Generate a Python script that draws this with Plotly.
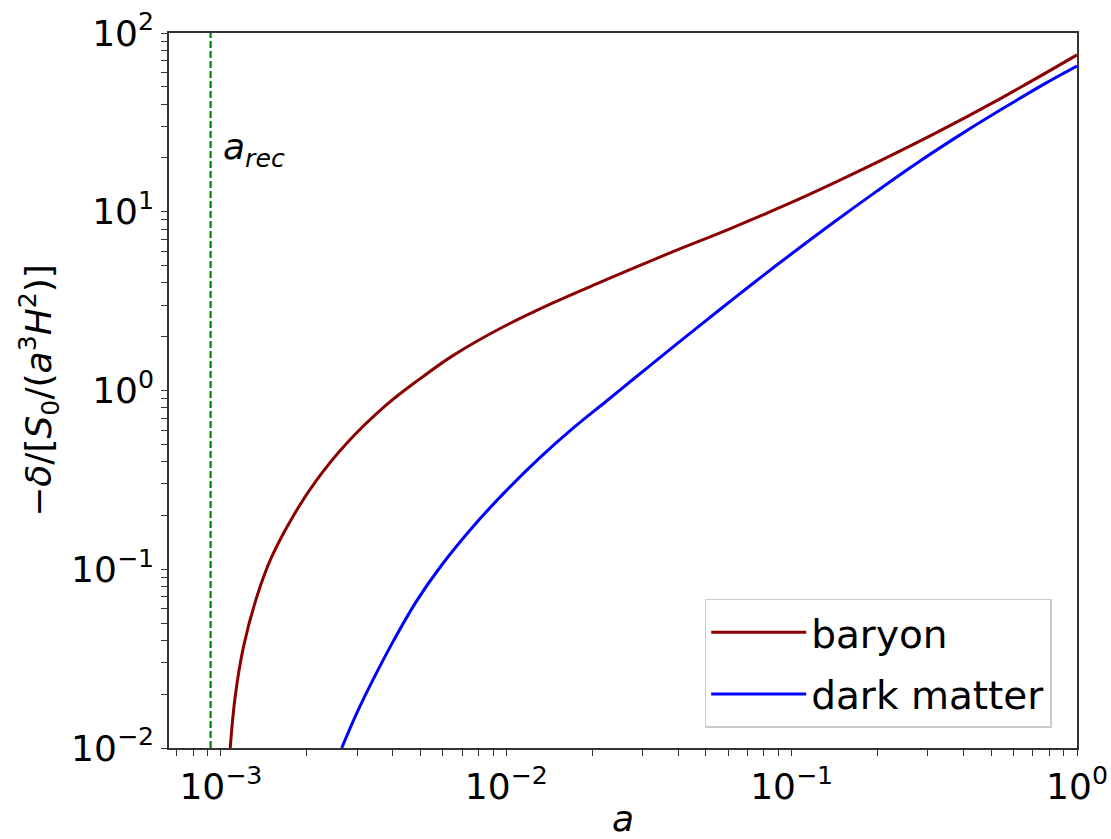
import plotly.graph_objects as go
import numpy as np

# ---- data ----
a_baryon = [1.078e-3, 1.122e-3, 1.20e-3, 1.336e-3, 1.507e-3, 1.795e-3, 2.167e-3, 2.76e-3,
            3.80e-3, 4.98e-3, 6.5e-3, 9.73e-3, 0.01456, 0.0218, 0.0362, 0.0619, 0.106,
            0.1815, 0.3105, 0.531, 1.0]
baryon = [0.0100, 0.0194, 0.0369, 0.0702, 0.1175, 0.1995, 0.316, 0.507, 0.83, 1.161, 1.567,
          2.265, 3.09, 4.09, 5.75, 8.13, 11.75, 17.58, 26.9, 42.4, 75.4]

a_dm = [2.65e-3, 2.99e-3, 3.42e-3, 4.01e-3, 4.84e-3, 5.85e-3, 7.64e-3, 0.0100, 0.01306,
        0.0171, 0.0224, 0.02818, 0.03548, 0.04677, 0.0631, 0.07943, 0.1, 0.1413, 0.1995,
        0.2818, 0.3981, 0.5623, 0.7586, 1.0]
dark_matter = [0.0100, 0.01563, 0.02427, 0.03936, 0.06607, 0.1023, 0.1730, 0.2754, 0.4188,
               0.6138, 0.871, 1.175, 1.581, 2.254, 3.296, 4.395, 5.821, 8.79, 13.09,
               19.23, 27.54, 38.64, 51.29, 65.3]

a_rec = 9.2e-4
rec_y = [1e-2, 1e2]

x_tickvals = [1e-3, 1e-2, 1e-1, 1e0]
x_ticktext = ["10<sup>−3</sup>", "10<sup>−2</sup>", "10<sup>−1</sup>", "10<sup>0</sup>"]
y_tickvals = [1e-2, 1e-1, 1e0, 1e1, 1e2]
y_ticktext = ["10<sup>−2</sup>", "10<sup>−1</sup>", "10<sup>0</sup>", "10<sup>1</sup>", "10<sup>2</sup>"]

FONT = "DejaVu Sans"
FS = 36
XR = [-3.182, 0]
YR = [-2, 2]


def with_minor(vals, texts, lo, hi):
    """Append unlabeled minor ticks (2..9 x 10^n) that fall inside the log range."""
    v, t = list(vals), list(texts)
    for e in range(int(np.floor(lo)) - 1, int(np.ceil(hi)) + 1):
        for m in range(2, 10):
            val = m * 10.0 ** e
            if lo <= np.log10(val) <= hi:
                v.append(val)
                t.append("")
    return v, t


xv, xt = with_minor(x_tickvals, x_ticktext, *XR)
yv, yt = with_minor(y_tickvals, y_ticktext, *YR)

fig = go.Figure()
fig.add_trace(go.Scatter(x=[a_rec, a_rec], y=rec_y, mode="lines",
                         line=dict(color="#008000", width=2.2, dash="7px,3px"),
                         showlegend=False, hoverinfo="skip"))
fig.add_trace(go.Scatter(x=a_baryon, y=baryon, mode="lines", name="baryon", legendgroup="b",
                         line=dict(color="#8B0000", width=3, shape="spline", smoothing=1.1)))
fig.add_trace(go.Scatter(x=a_dm, y=dark_matter, mode="lines", name="dark matter", legendgroup="d",
                         line=dict(color="#0000FF", width=3, shape="spline", smoothing=1.1)))

axis_common = dict(
    type="log", showgrid=False, zeroline=False, automargin=False,
    showline=True, linecolor="#333", linewidth=1.5, mirror=True,
    ticks="outside", ticklen=6, tickwidth=1.2, tickcolor="#333",
    tickfont=dict(family=FONT, size=FS, color="black"),
)

fig.update_xaxes(
    **axis_common,
    range=XR, tickmode="array", tickvals=xv, ticktext=xt,
    title=dict(text="<i>a</i>", font=dict(family=FONT, size=FS, color="black"), standoff=14),
)
fig.update_yaxes(
    **axis_common,
    range=YR, tickmode="array", tickvals=yv, ticktext=yt,
    title=dict(text="−<i>δ</i>/[<i>S</i><sub>0</sub>/(<i>a</i><sup>3</sup><i>H</i><sup>2</sup>)]",
               font=dict(family=FONT, size=FS, color="black"), standoff=8),
)

fig.add_annotation(x=np.log10(a_rec), y=1.35, xref="x", yref="y",
                   text="<i>a</i><sub><i>rec</i></sub>", showarrow=False,
                   xanchor="left", yanchor="middle", xshift=10,
                   font=dict(family=FONT, size=FS, color="black"))

fig.update_layout(
    width=1111, height=839,
    margin=dict(l=169, r=34, t=33, b=91),
    paper_bgcolor="white", plot_bgcolor="white",
    font=dict(family=FONT, size=FS, color="black"),
    legend=dict(x=0.590, y=0.028, xanchor="left", yanchor="bottom",
                bgcolor="rgba(255,255,255,0.8)", bordercolor="#cccccc", borderwidth=1.5,
                itemwidth=95, tracegroupgap=8,
                font=dict(family=FONT, size=39, color="black")),
)

fig.write_html("out.html")
